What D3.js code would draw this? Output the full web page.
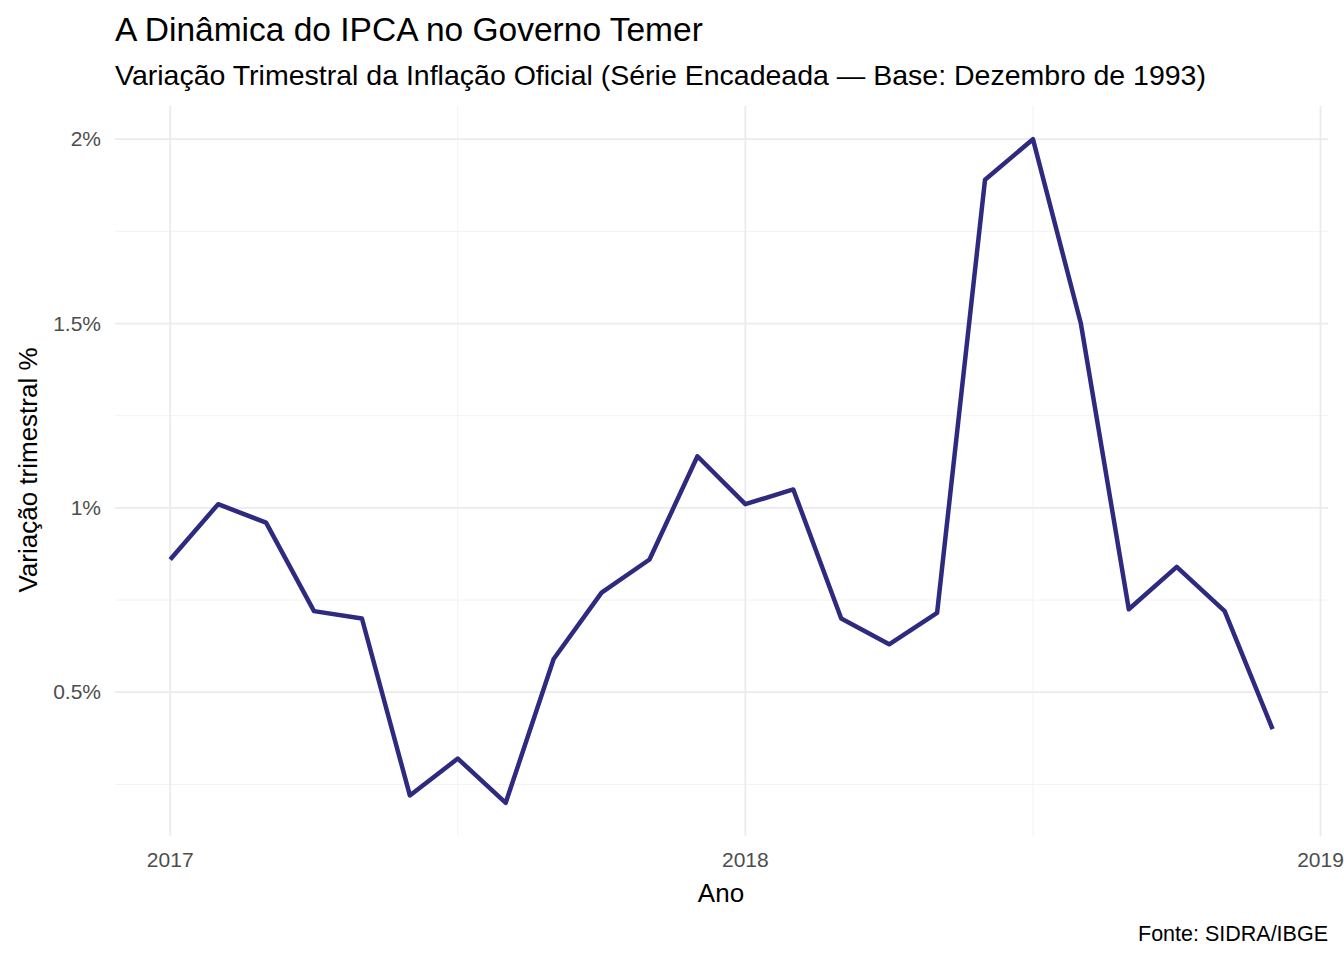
<!DOCTYPE html>
<html lang="pt">
<head>
  <meta charset="UTF-8">
  <title>IPCA Temer</title>
  <script src="https://cdn.jsdelivr.net/npm/d3@7"></script>
  <style>
    body { margin: 0; background: #fff; }
    text { font-family: "Liberation Sans", Arial, sans-serif; }
  </style>
</head>
<body>
<svg id="chart"></svg>
<script>
  const years = [2017, 2018];
  const months = [1, 2, 3, 4, 5, 6, 7, 8, 9, 10, 11, 12];
  const values2017 = [0.86, 1.01, 0.96, 0.72, 0.70, 0.22, 0.32, 0.20, 0.59, 0.77, 0.86, 1.14];
  const values2018 = [1.01, 1.05, 0.70, 0.63, 0.715, 1.89, 2.00, 1.50, 0.725, 0.84, 0.72, 0.40];
  const xTicks = [2017, 2018, 2019];
  const yTicks = [0.5, 1, 1.5, 2];
  const yMinor = [0.25, 0.75, 1.25, 1.75];
  const xMinor = [2017.5, 2018.5];

  const data = [];
  [values2017, values2018].forEach((vals, i) => {
    vals.forEach((v, j) => data.push({ t: years[i] + (months[j] - 1) / 12, v }));
  });

  const width = 1344, height = 960;
  const svg = d3.select('#chart').attr('width', width).attr('height', height);

  const x = d3.scaleLinear().domain([2016.904, 2019.013]).range([115, 1328]);
  const y = d3.scaleLinear().domain([0.11, 2.09]).range([836, 106]);

  const grid = svg.append('g');
  grid.selectAll('.ymin').data(yMinor).join('line')
    .attr('x1', 115).attr('x2', 1328).attr('y1', d => y(d)).attr('y2', d => y(d))
    .attr('stroke', '#f2f2f2').attr('stroke-width', 1);
  grid.selectAll('.xmin').data(xMinor).join('line')
    .attr('y1', 106).attr('y2', 836).attr('x1', d => x(d)).attr('x2', d => x(d))
    .attr('stroke', '#f2f2f2').attr('stroke-width', 1);
  grid.selectAll('.ymaj').data(yTicks).join('line')
    .attr('x1', 115).attr('x2', 1328).attr('y1', d => y(d)).attr('y2', d => y(d))
    .attr('stroke', '#ebebeb').attr('stroke-width', 1.8);
  grid.selectAll('.xmaj').data(xTicks).join('line')
    .attr('y1', 106).attr('y2', 836).attr('x1', d => x(d)).attr('x2', d => x(d))
    .attr('stroke', '#ebebeb').attr('stroke-width', 1.8);

  const line = d3.line().x(d => x(d.t)).y(d => y(d.v));
  svg.append('path').datum(data)
    .attr('d', line)
    .attr('fill', 'none')
    .attr('stroke', '#2e2a7f')
    .attr('stroke-width', 4.5)
    .attr('stroke-linejoin', 'round');

  svg.selectAll('.yl').data(yTicks).join('text')
    .attr('x', 101).attr('y', d => y(d) + 7)
    .attr('text-anchor', 'end').attr('font-size', 21).attr('fill', '#4d4d4d')
    .text(d => d + '%');
  svg.selectAll('.xl').data(xTicks).join('text')
    .attr('x', d => x(d)).attr('y', 867)
    .attr('text-anchor', 'middle').attr('font-size', 21).attr('fill', '#4d4d4d')
    .text(d => d);

  svg.append('text').attr('x', 721).attr('y', 902).attr('text-anchor', 'middle')
    .attr('font-size', 26).attr('fill', '#000').text('Ano');
  svg.append('text').attr('transform', 'translate(37,470) rotate(-90)')
    .attr('text-anchor', 'middle').attr('font-size', 26).attr('fill', '#000')
    .text('Variação trimestral %');

  svg.append('text').attr('x', 115).attr('y', 41).attr('font-size', 33.5)
    .attr('fill', '#000').text('A Dinâmica do IPCA no Governo Temer');
  svg.append('text').attr('x', 115).attr('y', 85).attr('font-size', 28.5)
    .attr('fill', '#000').text('Variação Trimestral da Inflação Oficial (Série Encadeada — Base: Dezembro de 1993)');
  svg.append('text').attr('x', 1328).attr('y', 941).attr('text-anchor', 'end')
    .attr('font-size', 21.5).attr('fill', '#000').text('Fonte: SIDRA/IBGE');
</script>
</body>
</html>
